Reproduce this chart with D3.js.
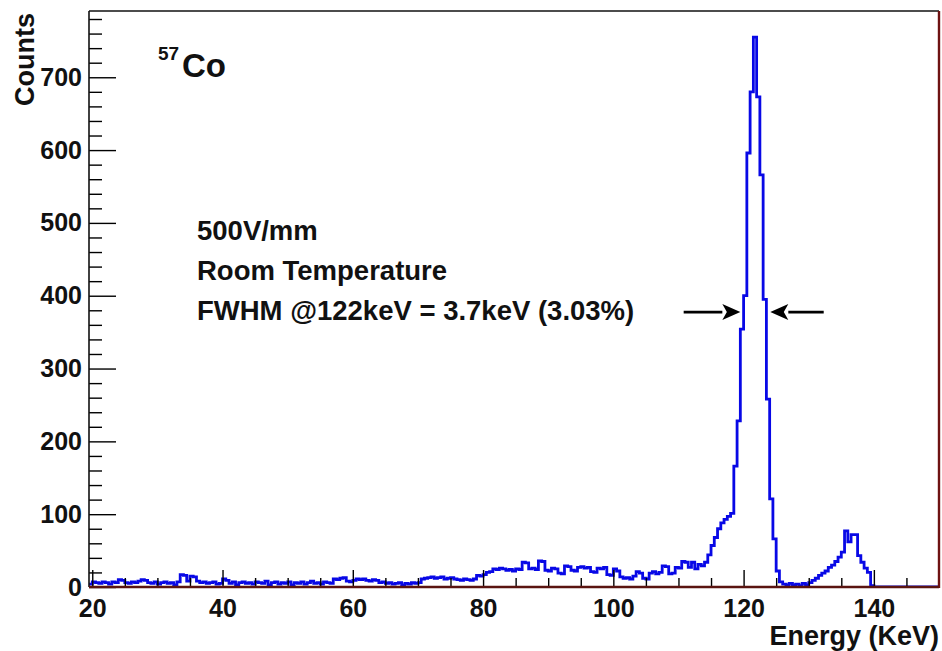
<!DOCTYPE html>
<html>
<head>
<meta charset="utf-8">
<script src="https://cdn.jsdelivr.net/npm/d3@7"></script>
<style>
  html, body { margin: 0; padding: 0; background: #fff; }
  svg { display: block; font-family: "Liberation Sans", Arial, Helvetica, sans-serif; font-weight: bold; }
</style>
</head>
<body>
<svg id="chart" width="942" height="651"></svg>
<script>
// 57Co spectrum, 0.5 keV bins starting at 19.5 keV
const binStart = 19.5;
const binWidth = 0.5;
const counts = [
  // 19.5 - 70 keV
  4, 7, 6, 5, 7, 6, 4, 7, 6, 10,
  9, 6, 5, 7, 6, 8, 10, 9, 6, 5,
  7, 4, 6, 7, 5, 6, 3, 7, 17, 16,
  8, 15, 14, 8, 6, 7, 5, 6, 7, 4,
  5, 11, 9, 5, 7, 3, 6, 7, 5, 6,
  4, 7, 6, 5, 8, 3, 6, 7, 4, 6,
  5, 7, 3, 6, 5, 7, 4, 6, 8, 5,
  6, 4, 7, 6, 5, 11, 10, 12, 13, 8,
  7, 9, 11, 10, 11, 9, 8, 10, 9, 6,
  7, 5, 6, 4, 5, 6, 3, 5, 4, 6,
  5,
  // 70 - 80 keV
  6, 11, 12, 13, 14, 12, 13, 14, 11, 12, 13, 11, 10, 9, 11, 10, 9, 11, 16, 15,
  // 80 - 90 keV
  17, 20, 21, 25, 24, 26, 25, 23, 24, 22, 25, 24, 34, 33, 25, 26, 24, 36, 35, 23,
  // 90 - 100 keV
  22, 26, 25, 19, 18, 29, 28, 23, 22, 27, 28, 26, 27, 21, 20, 26, 25, 27, 17, 16,
  // 100 - 110 keV
  25, 22, 14, 12, 13, 11, 15, 21, 19, 12, 11, 19, 21, 18, 20, 29, 28, 18, 19, 27,
  // 110 - 115 keV
  26, 35, 34, 27, 34, 25, 31, 29, 34, 44,
  // 115 - 120 keV
  57, 68, 80, 88, 93, 97, 101, 166, 228, 354,
  // 120 - 125 keV (photopeak)
  400, 596, 680, 755, 673, 566, 395, 258, 121, 66,
  // 125 - 130 keV
  22, 7, 4, 3, 5, 3, 4, 2, 5, 3,
  // 130 - 140 keV (136 keV line)
  6, 9, 12, 16, 19, 22, 27, 30, 35, 41,
  48, 77, 62, 72, 72, 43, 34, 26, 20, 2,
  // 140 - 150 keV
  0, 0, 0, 0, 0, 0, 0, 0, 0, 0,
  0, 0, 0, 0, 0, 0, 0, 0, 0, 0
];

const xDomain = [19.5, 150];
const yDomain = [0, 791];
const xMajorTicks = [20, 40, 60, 80, 100, 120, 140];
const xMinorTicks = [25, 30, 35, 45, 50, 55, 65, 70, 75, 85, 90, 95, 105, 110, 115, 125, 130, 135, 145];
const yMajorTicks = [0, 100, 200, 300, 400, 500, 600, 700];
const yMinorTicks = d3.range(20, 791, 20).filter(v => v % 100 !== 0);

const xTitle = "Energy (KeV)";
const yTitle = "Counts";
const isotopeMass = "57";
const isotopeSymbol = "Co";
const infoLines = ["500V/mm", "Room Temperature", "FWHM @122keV = 3.7keV (3.03%)"];

// FWHM markers: half-maximum crossings and arrow tails (keV)
const fwhmEdges = [119.5, 124.1];
const arrowTails = [110.8, 132.3];

const svg = d3.select("#chart");
const frame = { left: 89, right: 939, top: 11, bottom: 587 };

const x = d3.scaleLinear().domain(xDomain).range([frame.left, frame.right]);
const y = d3.scaleLinear().domain(yDomain).range([frame.bottom, frame.top]);

// histogram outline
const pts = counts.map((v, i) => [binStart + i * binWidth, v]);
pts.push([binStart + counts.length * binWidth, counts[counts.length - 1]]);
const step = d3.line()
  .x(d => x(d[0]))
  .y(d => y(d[1]))
  .curve(d3.curveStepAfter);

svg.append("defs").append("clipPath").attr("id", "plotClip")
  .append("rect")
  .attr("x", frame.left).attr("y", frame.top)
  .attr("width", frame.right - frame.left).attr("height", frame.bottom - frame.top);

svg.append("path")
  .datum(pts)
  .attr("clip-path", "url(#plotClip)")
  .attr("d", step)
  .attr("fill", "none")
  .attr("stroke", "#0808e6")
  .attr("stroke-width", 2.8)
  .attr("stroke-linejoin", "miter");

// x axis ticks (pointing into the plot)
const gx = svg.append("g").attr("transform", `translate(0,${frame.bottom})`);
gx.call(d3.axisBottom(x).tickValues(xMajorTicks).tickSize(-17).tickPadding(12).tickFormat(d3.format("d")));
const gxm = svg.append("g").attr("transform", `translate(0,${frame.bottom})`);
gxm.call(d3.axisBottom(x).tickValues(xMinorTicks).tickSize(-9).tickFormat(""));

// y axis ticks
const gy = svg.append("g").attr("transform", `translate(${frame.left},0)`);
gy.call(d3.axisLeft(y).tickValues(yMajorTicks).tickSize(-27).tickPadding(7).tickFormat(d3.format("d")));
const gym = svg.append("g").attr("transform", `translate(${frame.left},0)`);
gym.call(d3.axisLeft(y).tickValues(yMinorTicks).tickSize(-13).tickFormat(""));

svg.selectAll(".domain").remove();
svg.selectAll(".tick line").attr("stroke", "#000").attr("stroke-width", 1.4);
svg.selectAll(".tick text")
  .attr("fill", "#111")
  .style("font-family", "'Liberation Sans', Arial, sans-serif")
  .style("font-weight", "bold")
  .style("font-size", "25px");

// frame
svg.append("line").attr("x1", frame.left).attr("x2", frame.right).attr("y1", frame.top).attr("y2", frame.top)
  .attr("stroke", "#111").attr("stroke-width", 1.6);
svg.append("line").attr("x1", frame.left).attr("x2", frame.left).attr("y1", frame.top).attr("y2", frame.bottom)
  .attr("stroke", "#111").attr("stroke-width", 1.6);
svg.append("line").attr("x1", frame.right).attr("x2", frame.right).attr("y1", frame.top).attr("y2", frame.bottom + 1)
  .attr("stroke", "#6e1212").attr("stroke-width", 2.4);
svg.append("line").attr("x1", frame.left).attr("x2", frame.right).attr("y1", frame.bottom).attr("y2", frame.bottom)
  .attr("stroke", "#5a1410").attr("stroke-width", 2.6);

// axis titles
svg.append("text")
  .attr("x", frame.right).attr("y", 645)
  .attr("text-anchor", "end")
  .attr("fill", "#111")
  .style("font-size", "27px")
  .text(xTitle);

svg.append("text")
  .attr("transform", `translate(34,13) rotate(-90)`)
  .attr("text-anchor", "end")
  .attr("fill", "#111")
  .style("font-size", "27px")
  .text(yTitle);

// isotope label
const iso = svg.append("text").attr("fill", "#111");
iso.append("tspan").attr("x", 158).attr("y", 60).style("font-size", "19px").text(isotopeMass);
iso.append("tspan").attr("x", 182).attr("y", 77).style("font-size", "33px").text(isotopeSymbol);

// run conditions
const infoY = [240, 280, 320];
infoLines.forEach((t, i) => {
  svg.append("text")
    .attr("x", 197).attr("y", infoY[i])
    .attr("fill", "#111")
    .style("font-size", "27.5px")
    .text(t);
});

// FWHM arrows at half maximum
const peak = d3.max(counts);
const yHalf = y(peak / 2);
const head = 18, halfW = 8;
fwhmEdges.forEach((edge, i) => {
  const tip = x(edge), tail = x(arrowTails[i]);
  const dir = Math.sign(tip - tail);
  svg.append("line")
    .attr("x1", tail).attr("x2", tip - dir * head).attr("y1", yHalf).attr("y2", yHalf)
    .attr("stroke", "#000").attr("stroke-width", 2.6);
  svg.append("path")
    .attr("d", `M${tip},${yHalf} L${tip - dir * head},${yHalf - halfW} L${tip - dir * head * 0.75},${yHalf} L${tip - dir * head},${yHalf + halfW} Z`)
    .attr("fill", "#000");
});
</script>
</body>
</html>
